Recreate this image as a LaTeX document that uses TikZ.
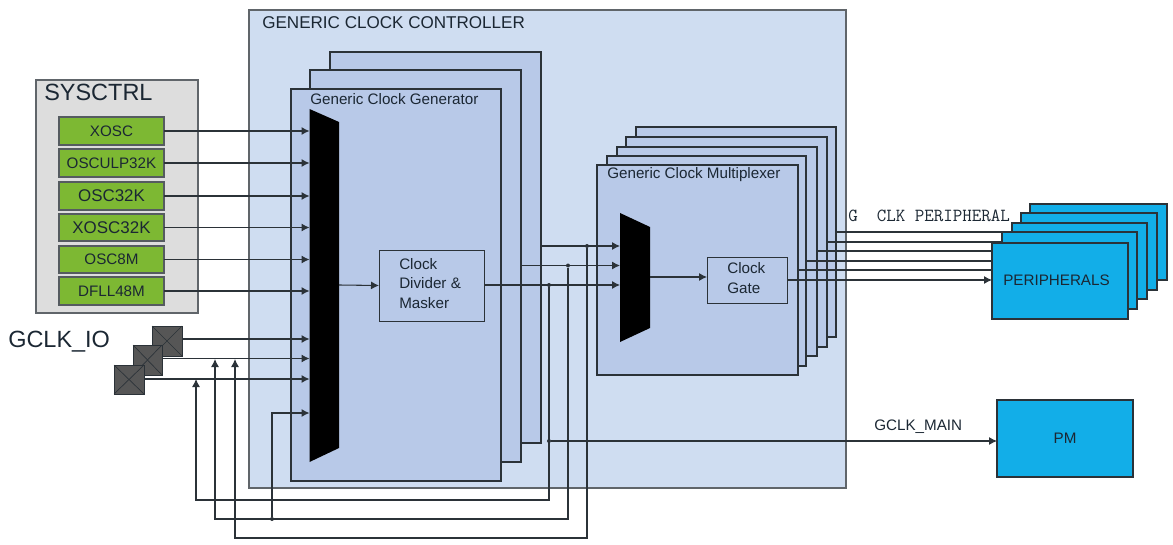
\documentclass[tikz,border=0pt]{standalone}
\usepackage{fontspec}
\setmainfont{Liberation Sans}
\usetikzlibrary{arrows.meta}
\definecolor{ctrlfill}{HTML}{CFDDF1}
\definecolor{genfill}{HTML}{B8C9E8}
\definecolor{sysfill}{HTML}{DDDDDD}
\definecolor{oscfill}{HTML}{7DB833}
\definecolor{perifill}{HTML}{12AEE8}
\definecolor{padfill}{HTML}{565656}
\definecolor{wire}{HTML}{2B3238}
\definecolor{inktext}{HTML}{1B2733}
\newcommand\bx[7]{%
  \pgfmathsetmacro\bxw{(#5-#3)*0.75}%
  \pgfmathsetmacro\bxh{(#6-#4)*0.75}%
  \node[#1,minimum width=\bxw pt,minimum height=\bxh pt,inner sep=0pt,outer sep=0pt] (#2) at ({(#3+#5)/2},{(#4+#6)/2}) {#7};%
}
\tikzset{
  ctrlbox/.style={draw=wire!75,line width=0.9pt,fill=ctrlfill},
  genbox/.style={draw=wire,line width=0.8pt,fill=genfill},
  sysbox/.style={draw=wire!75,line width=0.9pt,fill=sysfill},
  oscbox/.style={draw=wire!80,line width=0.9pt,fill=oscfill,text=inktext},
  peribox/.style={draw=wire,line width=0.8pt,fill=perifill,text=inktext},
  innerbox/.style={draw=wire,line width=0.7pt,fill=genfill,text=inktext},
  padbox/.style={draw=wire,line width=0.7pt,fill=padfill},
  base/.style={font=\fontsize{11.4pt}{14pt}\selectfont,text=inktext},
  lbl/.style={base,anchor=west,inner sep=0pt},
  wireline/.style={draw=wire,line width=0.8pt},
  wirearrow/.style={wireline,-{Latex[length=6pt,width=6pt]}},
  junction/.style={circle,fill=wire,inner sep=0pt,minimum size=3pt},
  muxshape/.style={fill=black,draw=none},
}
\begin{document}
\begin{tikzpicture}[x=0.75pt,y=-0.75pt]
\useasboundingbox (0,0) rectangle (1173,545);
% controller
\bx{ctrlbox}{ctrl}{249}{10}{846}{488}{}
\node[lbl,font=\fontsize{12.8pt}{15pt}\selectfont] (ctrltitle) at (262,23) {GENERIC CLOCK CONTROLLER};
% sysctrl
\bx{sysbox}{sys}{36}{80}{198}{313}{}
\node[lbl,font=\fontsize{17.6pt}{20pt}\selectfont] (systitle) at (44,92) {SYSCTRL};
\bx{oscbox,base}{xosc}{59}{117}{164}{145}{XOSC}
\bx{oscbox,base}{osculp}{59}{149}{164}{177}{OSCULP32K}
\bx{oscbox,font=\fontsize{12.7pt}{15pt}\selectfont}{osca}{59}{182}{164}{210}{OSC32K}
\bx{oscbox,font=\fontsize{12.7pt}{15pt}\selectfont}{xoscb}{59}{214}{164}{241}{XOSC32K}
\bx{oscbox,base}{oscm}{59}{246}{164}{273}{OSC8M}
\bx{oscbox,base}{dfll}{59}{277}{164}{305}{DFLL48M}
% generator stack
\bx{genbox}{genc}{330}{52}{541}{443}{}
\bx{genbox}{genb}{310}{70}{521}{462}{}
\bx{genbox}{gena}{291}{89}{501}{481}{}
\node[lbl] (gentitle) at (310,99.5) {Generic Clock Generator};
\fill[muxshape] (309.5,109) -- (339,122) -- (339,448) -- (309.5,462) -- cycle;
\coordinate (gin) at (309.5,285);
\coordinate (gout) at (339,285);
\bx{innerbox}{div}{379}{250}{484}{321}{}
\node[lbl,align=left,font=\fontsize{11.4pt}{14.3pt}\selectfont] (divtext) at (399,283.5) {Clock\\Divider \&\\Masker};
% mux stack
\bx{genbox}{muxe}{636}{127}{836}{337}{}
\bx{genbox}{muxd}{626}{137}{827}{347}{}
\bx{genbox}{muxc}{617}{147}{817}{356}{}
\bx{genbox}{muxb}{607}{156}{806}{366}{}
\bx{genbox}{muxa}{597}{165}{798}{375}{}
\node[lbl] (muxtitle) at (607,175) {Generic Clock Multiplexer};
\fill[muxshape] (620,213) -- (650,227) -- (650,328) -- (620,342) -- cycle;
\coordinate (min) at (620,285);
\coordinate (mout) at (650,277);
\bx{innerbox}{gate}{707}{257}{787}{303}{}
\node[lbl,align=left,font=\fontsize{11.4pt}{15.6pt}\selectfont] (gatetext) at (727,278) {Clock\\Gate};
% peripherals
\bx{peribox}{perie}{1030}{204}{1167}{280}{}
\bx{peribox}{perid}{1021}{213}{1157}{290}{}
\bx{peribox}{peric}{1012}{223}{1147}{299}{}
\bx{peribox}{perib}{1002}{232}{1137}{309}{}
\bx{peribox}{peria}{992}{243}{1128}{319}{}
\node[lbl] (peritext) at (1003,280) {PERIPHERALS};
\bx{peribox,base}{pm}{997}{400}{1133}{477}{PM}
% pads
\bx{padbox}{padc}{152}{326}{182}{356}{}
\draw[wire,line width=0.5pt] (padc.north west) -- (padc.south east) (padc.north east) -- (padc.south west);
\bx{padbox}{padb}{133}{345}{162}{375}{}
\draw[wire,line width=0.5pt] (padb.north west) -- (padb.south east) (padb.north east) -- (padb.south west);
\bx{padbox}{pada}{114}{365}{144}{394}{}
\draw[wire,line width=0.5pt] (pada.north west) -- (pada.south east) (pada.north east) -- (pada.south west);
\node[lbl,font=\fontsize{17.6pt}{20pt}\selectfont] (iotext) at (8,342) {GCLK\_IO};
% oscillator inputs
\foreach \n in {xosc,osculp,osca,xoscb,oscm,dfll}
  \draw[wirearrow] (\n.east) -- (\n.east -| gin);
% pad inputs
\coordinate (ioc) at (padc.east |- 0,339);
\coordinate (iob) at (padc.south east |- 0,358.5);
\coordinate (ioa) at (pada.east |- 0,379);
\draw[wirearrow] (ioc) -- (ioc -| gin);
\draw[wirearrow] (padb.east |- iob) -- (iob -| gin);
\draw[wirearrow] (ioa) -- (ioa -| gin);
% generator outputs
\draw[wirearrow] (gout) -- (div.west);
\coordinate (busa) at (541,246);
\coordinate (busb) at (521,265.5);
\coordinate (busc) at (484,285);
\draw[wirearrow] (busa) -- (busa -| min);
\draw[wirearrow] (busb) -- (busb -| min);
\draw[wirearrow] (busc) -- (busc -| min);
\node[junction] (ja) at (587,246) {};
\node[junction] (jb) at (568,265.5) {};
\node[junction] (jc) at (549,285) {};
% feedback
\coordinate (fbc) at (196,379);
\coordinate (fbb) at (215,359);
\coordinate (fba) at (235,359);
\draw[wirearrow] (jc) |- (196,500) -- (fbc);
\draw[wirearrow] (jb) |- (215,519) -- (fbb);
\draw[wirearrow] (ja) |- (235,538) -- (fba);
\node[junction] (jd) at (272,519) {};
\coordinate (fbd) at (309.5,413);
\draw[wirearrow] (jd) |- (fbd);
% main clock
\node[junction] (je) at (549,441) {};
\draw[wirearrow] (je) -- (je -| pm.west);
\node[lbl,base] (maintext) at (874,427) {GCLK\_MAIN};
% mux to gate
\draw[wirearrow] (mout) -- (gate.west |- mout);
% peripheral lines
\draw[wireline] (muxe.east |- 0,232) -- (peric.west |- 0,232);
\draw[wireline] (muxd.east |- 0,242) -- (perib.west |- 0,242);
\draw[wireline] (muxc.east |- 0,251) -- (peria.west |- 0,251);
\draw[wireline] (muxb.east |- 0,261) -- (peria.west |- 0,261);
\draw[wireline] (muxa.east |- 0,270) -- (peria.west |- 0,270);
\draw[wirearrow] (gate.east |- 0,280) -- (peria.west |- 0,280);
\node[lbl,font=\ttfamily\fontsize{13.85pt}{16pt}\selectfont] (periclk) at (848,216) {G\ \ CLK PERIPHERAL};
\end{tikzpicture}
\end{document}
